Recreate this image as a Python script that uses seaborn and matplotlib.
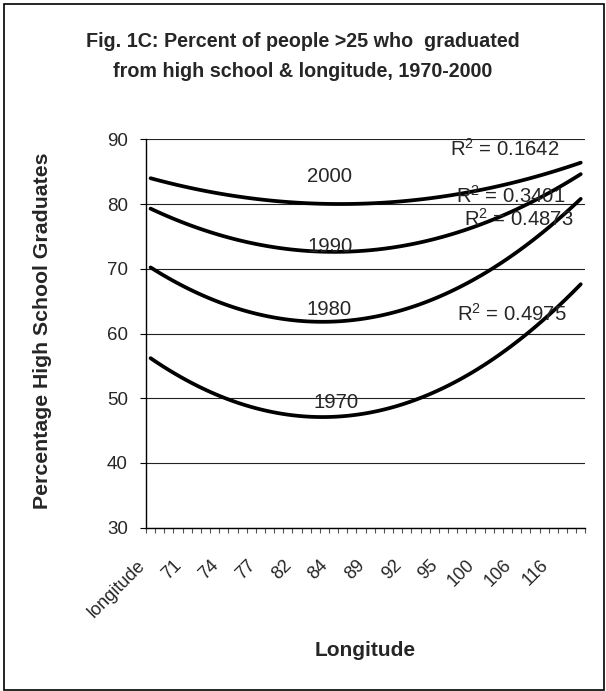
import numpy as np
import pandas as pd
import matplotlib
matplotlib.use("Agg")
import matplotlib.pyplot as plt
import matplotlib.transforms as mtransforms
from matplotlib.patches import Rectangle
import seaborn as sns

# Longitude categories on the x axis; every fourth category carries a label
n_categories = 48
tick_positions = [0, 4, 8, 12, 16, 20, 24, 28, 32, 36, 40, 44]
tick_labels = ["longitude", "71", "74", "77", "82", "84", "89", "92", "95",
               "100", "106", "116"]

# Category positions at which the percentages are given (last one = final category)
sample_positions = [0, 4, 8, 12, 16, 20, 24, 28, 32, 36, 40, 44, 47]

pct_2000 = [84.0, 82.6, 81.5, 80.7, 80.2, 80.0, 80.1, 80.5, 81.2, 82.2, 83.4, 85.0, 86.4]
pct_1990 = [79.3, 76.9, 75.0, 73.7, 72.9, 72.6, 72.9, 73.6, 75.0, 76.8, 79.2, 82.1, 84.6]
pct_1980 = [70.2, 67.0, 64.6, 62.9, 62.0, 61.8, 62.5, 63.8, 66.0, 68.9, 72.5, 77.0, 80.8]
pct_1970 = [56.2, 52.7, 50.1, 48.3, 47.3, 47.1, 47.8, 49.3, 51.6, 54.7, 58.7, 63.5, 67.6]

years = ["2000", "1990", "1980", "1970"]
r_squared = ["0.1642", "0.3401", "0.4873", "0.4975"]

series = dict(zip(years, [pct_2000, pct_1990, pct_1980, pct_1970]))
df = pd.concat(
    [pd.DataFrame({"position": sample_positions, "pct": vals, "year": yr})
     for yr, vals in series.items()],
    ignore_index=True,
)

sns.set_style("white")
plt.rcParams["font.family"] = ["Liberation Sans", "DejaVu Sans"]
plt.rcParams["mathtext.fontset"] = "custom"
plt.rcParams["mathtext.rm"] = "Liberation Sans"
plt.rcParams["mathtext.it"] = "Liberation Sans:italic"

W, H = 606, 691
fig = plt.figure(figsize=(W / 100, H / 100), dpi=100)
ax = fig.add_axes([146 / W, 1 - 527.7 / H, 439.3 / W, 388.4 / H])

# Quadratic trend line for each census year
for yr in years:
    sns.regplot(data=df[df["year"] == yr], x="position", y="pct", order=2,
                ci=None, scatter=False, truncate=True, color="black",
                line_kws={"lw": 2.7, "solid_capstyle": "round"}, ax=ax)

ax.set_xlim(-0.5, n_categories - 0.5)
ax.set_ylim(30, 90)
ax.set_yticks(np.arange(30, 91, 10))
ax.set_xlabel("")
ax.set_ylabel("")

ax.yaxis.grid(True, color="#222222", lw=0.8)
ax.xaxis.grid(False)
ax.set_axisbelow(True)

for side in ("top", "right"):
    ax.spines[side].set_visible(False)
for side in ("left", "bottom"):
    ax.spines[side].set_color("black")
    ax.spines[side].set_linewidth(1.0)

ax.tick_params(axis="y", direction="out", length=4.5, width=0.8, color="black",
               labelsize=13.5, pad=8.5, left=True)
ax.set_xticks(tick_positions)
ax.set_xticklabels(tick_labels, rotation=45, ha="right", va="top",
                   rotation_mode="anchor", fontsize=13)
ax.tick_params(axis="x", which="major", length=0, pad=21, bottom=True)
ax.set_xticks(np.arange(-0.5, n_categories, 1), minor=True)
ax.tick_params(axis="x", which="minor", direction="out", length=3.6,
               width=0.8, color="#555555", bottom=True)
shift = mtransforms.ScaledTranslation(-14 / 100, 0, fig.dpi_scale_trans)
for lbl in ax.get_xticklabels():
    lbl.set_transform(lbl.get_transform() + shift)

# Year labels on each curve
year_pos = {"2000": (19.5, 83.35), "1990": (19.6, 72.63),
            "1980": (19.5, 62.84), "1970": (20.3, 48.42)}
for yr, (x, y) in year_pos.items():
    ax.text(x, y, yr, ha="center", va="baseline", fontsize=14.6)

# Goodness-of-fit labels
r2_pos = [(32.7, 87.42), (33.4, 80.15), (34.2, 76.6), (33.45, 61.96)]
for (x, y), r2 in zip(r2_pos, r_squared):
    ax.text(x, y, f"R$^2$ = {r2}", ha="left", va="baseline", fontsize=14.6)

fig.text(0.5, 1 - 46.7 / H, "Fig. 1C: Percent of people >25 who  graduated",
         ha="center", va="baseline", fontsize=14.2, fontweight="bold")
fig.text(0.5, 1 - 77 / H, "from high school & longitude, 1970-2000",
         ha="center", va="baseline", fontsize=14.2, fontweight="bold")
fig.text(43 / W, 1 - 331 / H, "Percentage High School Graduates", rotation=90,
         ha="center", va="center", fontsize=15.3, fontweight="bold")
fig.text(365 / W, 1 - 650 / H, "Longitude", ha="center", va="center",
         fontsize=15, fontweight="bold")

fig.patches.append(Rectangle((4 / W, 1 / H), 600 / W, 686 / H,
                             transform=fig.transFigure, fill=False,
                             edgecolor="black", lw=1.2))

fig.savefig("out.png", dpi=100)
